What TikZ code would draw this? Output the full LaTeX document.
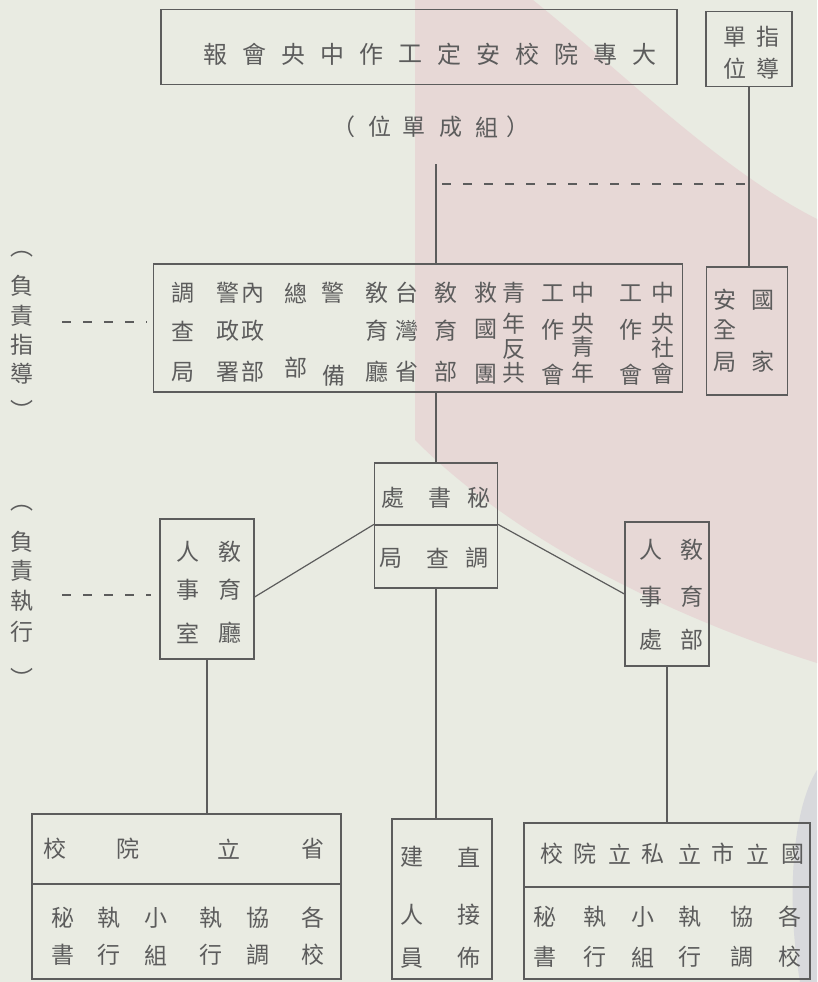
\documentclass[tikz,border=0pt]{standalone}
\usepackage{fontspec}
\newfontfamily\cjk{Noto Sans CJK TC}
\usetikzlibrary{positioning}
\definecolor{paper}{HTML}{E9EBE2}
\definecolor{blush}{HTML}{E7D8D6}
\definecolor{smudge}{HTML}{D8D9DC}
\definecolor{ink}{HTML}{5C5C5C}
\tikzset{
  box/.style={draw=ink, line width=1.2pt, inner sep=0pt},
  zi/.style={font=\cjk\fontsize{23}{23}\selectfont, text=ink, inner sep=0pt},
  bigzi/.style={zi, font=\cjk\fontsize{24}{24}\selectfont},
  link/.style={draw=ink, line width=1.2pt},
  hint/.style={draw=ink, line width=1.2pt, dash pattern=on 9pt off 12pt},
}

\begin{document}
\begin{tikzpicture}[x=1pt,y=-1pt]
        \fill[paper] (0,0) rectangle (817,982);
        \useasboundingbox (0,0) rectangle (817,982);
        % tint of the scan
        \fill[blush] (415,0) -- (533,0) .. controls (620,70) and (720,170) .. (817,219)
              -- (817,663) .. controls (680,620) and (520,545) .. (415,440) -- cycle;
        \fill[smudge] (817,770) .. controls (792,810) and (786,900) .. (800,982) -- (817,982) -- cycle;

        % boxes
        \node[box, minimum width=516pt, minimum height=75pt] (meeting) at (419,47) {};
        \node[box, minimum width=86pt, minimum height=75pt] (guide) at (749,49) {};
        \node[box, minimum width=529pt, minimum height=128pt] (depts) at (418,328) {};
        \node[box, minimum width=81pt, minimum height=128pt] (nsb) at (747,331) {};
        \node[box, minimum width=123pt, minimum height=62pt] (secTop) at (436,494) {};
        \node[box, minimum width=123pt, minimum height=63pt] (secBot) at (436,556.5) {};
        \node[box, minimum width=94pt, minimum height=140pt] (prov) at (207,589) {};
        \node[box, minimum width=84pt, minimum height=144pt] (moe) at (667,594) {};
        \node[box, minimum width=309pt, minimum height=70pt] (provHead) at (186.5,849) {};
        \node[box, minimum width=309pt, minimum height=95pt] (provBody) at (186.5,931.5) {};
        \node[box, minimum width=100pt, minimum height=160pt] (direct) at (442,899) {};
        \node[box, minimum width=286pt, minimum height=64pt] (natHead) at (667,855) {};
        \node[box, minimum width=286pt, minimum height=92pt] (natBody) at (667,933) {};

        % connectors
        \coordinate (feed) at (436,164);
        \coordinate (hintTop) at (442,184);
        \coordinate (leadA) at (62,322);
        \coordinate (leadB) at (62,595);
        \draw[link] (feed) -- (feed |- depts.north);
        \draw[link] (guide.south) -- (guide.south |- nsb.north);
        \draw[hint] (hintTop) -- ([xshift=-4pt]hintTop -| guide.south);
        \draw[hint] (leadA) -- ([xshift=-6pt]leadA -| depts.west);
        \draw[hint] (leadB) -- ([xshift=-8pt]leadB -| prov.west);
        \draw[link] (secTop.north |- depts.south) -- (secTop.north);
        \draw[link] (secBot.north west) -- ([yshift=-8pt]prov.east);
        \draw[link] (secBot.north east) -- (moe.west);
        \draw[link] (prov.south) -- (prov.south |- provHead.north);
        \draw[link] (secBot.south) -- (secBot.south |- direct.north);
        \draw[link] (moe.south) -- (moe.south |- natHead.north);

        % texts
        \foreach \c [count=\i] in {報,會,央,中,作,工,定,安,校,院,專,大}
            \node[bigzi] (m\i) at (176+39*\i,54) {\c};
        \foreach \c/\x/\y [count=\i] in {單/735/37, 指/768/37, 位/735/69, 導/768/69}
            \node[zi] (g\i) at (\x,\y) {\c};
        \foreach \c/\x [count=\i] in {（/344, 位/380, 單/414, 成/451, 組/487, ）/518}
            \node[zi] (u\i) at (\x,127) {\c};
        \foreach \c/\y [count=\i] in {︵/254, 負/286, 責/316, 指/345, 導/374, ︶/410}
            \node[zi] (la\i) at (22,\y) {\c};
        \foreach \c/\y [count=\i] in {︵/508, 負/542, 責/571, 執/601, 行/632, ︶/678}
            \node[zi] (lb\i) at (22,\y) {\c};
        \foreach \c/\x/\y [count=\i] in {調/183/293, 查/183/331, 局/183/372,
                警/228/293, 政/228/331, 署/228/372, 內/253/293, 政/253/331, 部/253/372,
                總/296/293, 部/296/368, 警/333/293, 備/334/376,
                敎/377/293, 育/377/331, 廳/377/372, 台/407/293, 灣/407/331, 省/407/372,
                敎/446/293, 育/446/331, 部/446/372, 救/486/293, 國/486/329, 團/486/374,
                青/514/293, 年/514/324, 反/514/350, 共/514/373,
                工/553/293, 作/553/330, 會/553/375, 中/583/293, 央/583/324, 青/583/347, 年/583/373,
                工/631/293, 作/631/330, 會/631/375, 中/663/293, 央/663/324, 社/663/348, 會/663/374}
            \node[zi] (d\i) at (\x,\y) {\c};
        \foreach \c/\x/\y [count=\i] in {安/725/300, 全/725/330, 局/725/362, 國/763/300, 家/763/362}
            \node[zi] (n\i) at (\x,\y) {\c};
        \foreach \c/\x/\y [count=\i] in {處/393/498, 書/440/498, 秘/479/498, 局/391/558, 查/438/558, 調/477/558}
            \node[zi] (s\i) at (\x,\y) {\c};
        \foreach \c/\x/\y [count=\i] in {人/188/552, 事/188/590, 室/188/633, 敎/230/552, 育/230/590, 廳/230/633}
            \node[zi] (p\i) at (\x,\y) {\c};
        \foreach \c/\x/\y [count=\i] in {人/651/550, 事/651/597, 處/651/640, 敎/692/550, 育/692/597, 部/692/640}
            \node[zi] (e\i) at (\x,\y) {\c};
        \foreach \c/\x [count=\i] in {校/55, 院/128, 立/229, 省/313}
            \node[zi] (ph\i) at (\x,849) {\c};
        \foreach \t/\b/\x [count=\i] in {秘/書/63, 執/行/109, 小/組/156, 執/行/211, 協/調/258, 各/校/313}
        {
            \node[zi] (pt\i) at (\x,918) {\t};
            \node[zi] (pb\i) at (\x,955) {\b};
        }
        \foreach \c/\x/\y [count=\i] in {建/412/857, 人/412/915, 員/412/958, 直/469/857, 接/469/915, 佈/469/958}
            \node[zi] (r\i) at (\x,\y) {\c};
        \foreach \c/\x [count=\i] in {校/552, 院/585, 立/620, 私/653, 立/690, 市/723, 立/758, 國/793}
            \node[zi] (nh\i) at (\x,854) {\c};
        \foreach \t/\b/\x [count=\i] in {秘/書/545, 執/行/595, 小/組/643, 執/行/690, 協/調/742, 各/校/790}
        {
            \node[zi] (nt\i) at (\x,917) {\t};
            \node[zi] (nb\i) at (\x,957) {\b};
        }
\end{tikzpicture}
\end{document}
